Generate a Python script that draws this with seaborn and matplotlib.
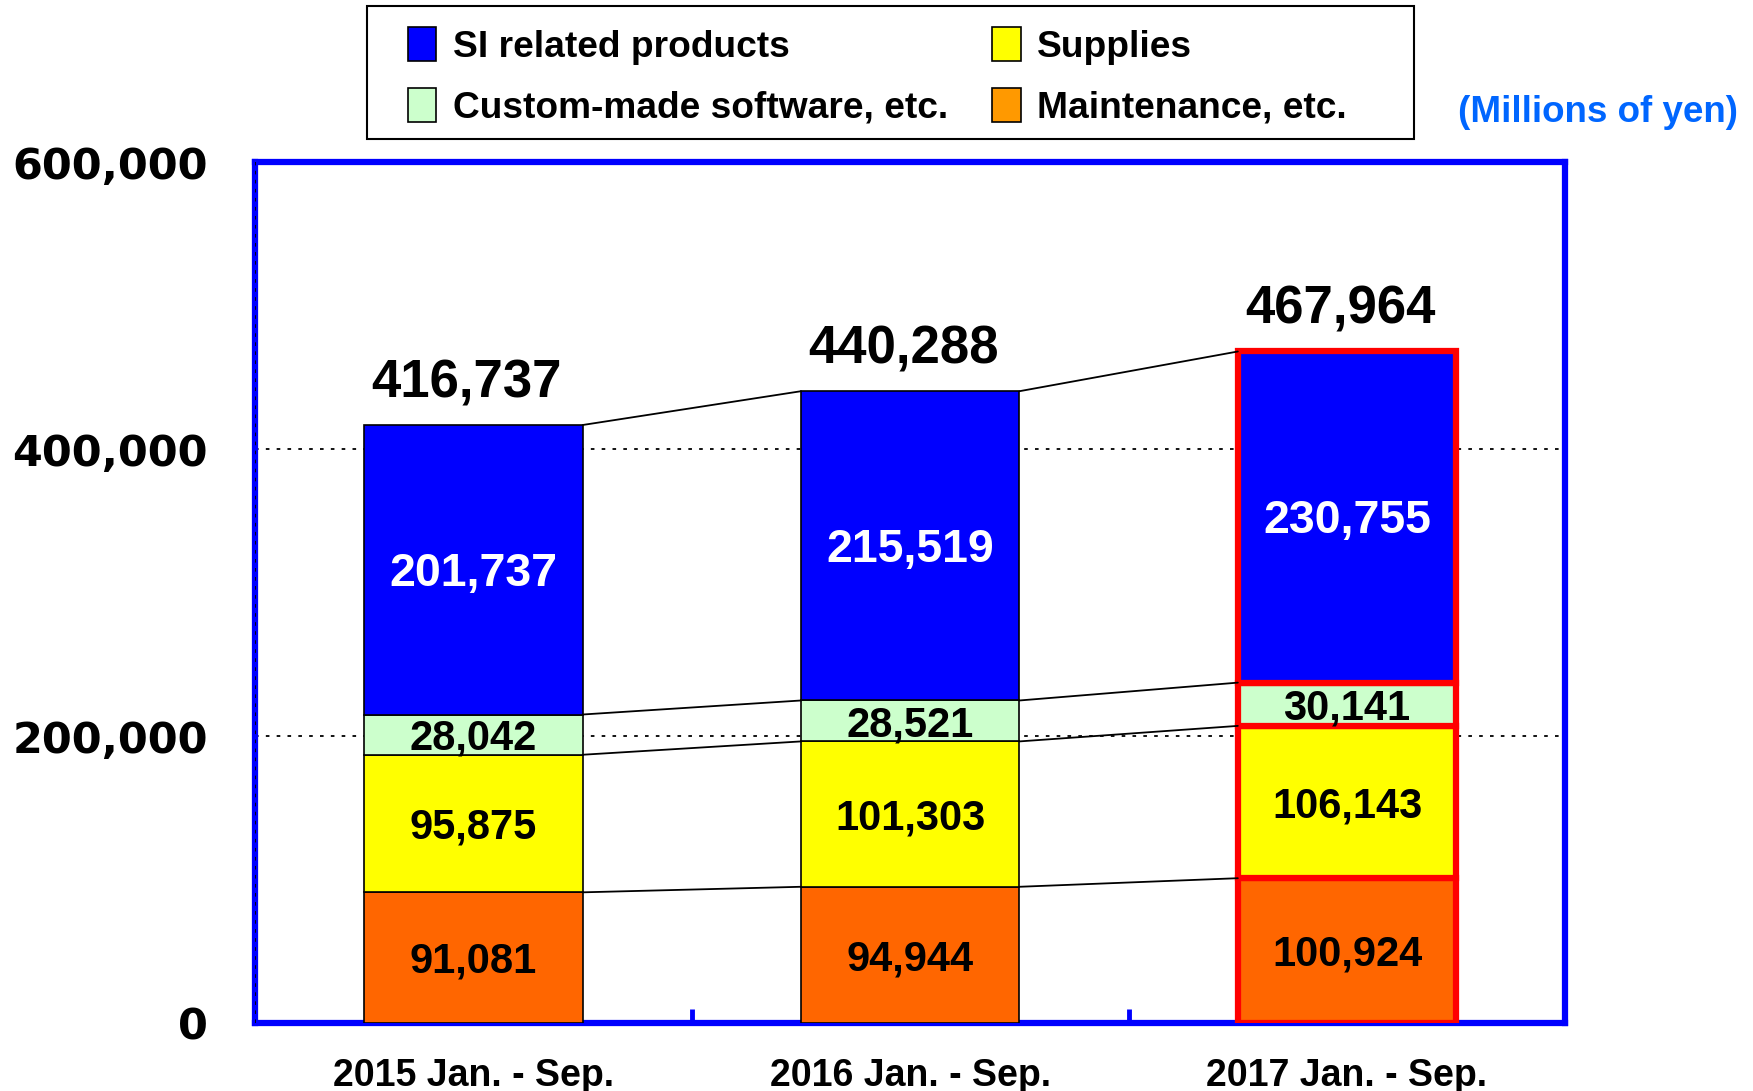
import numpy as np
import matplotlib
matplotlib.use("Agg")
import matplotlib.pyplot as plt
from matplotlib import font_manager
from matplotlib.patches import Patch, Rectangle
import seaborn as sns

# data (millions of yen)
periods = ["2015 Jan. - Sep.", "2016 Jan. - Sep.", "2017 Jan. - Sep."]
maintenance = [91081, 94944, 100924]
supplies = [95875, 101303, 106143]
custom_sw = [28042, 28521, 30141]
si_products = [201737, 215519, 230755]
totals = [416737, 440288, 467964]

bar_colors = ["#FF6600", "#FFFF00", "#CCFFCC", "#0000FF"]
legend_labels = ["SI related products", "Custom-made software, etc.", "Supplies", "Maintenance, etc."]
legend_colors = ["#0000FF", "#CCFFCC", "#FFFF00", "#FF9900"]
label_colors = ["black", "black", "black", "white"]

sns.set_theme(style="white")
plt.rcParams["font.family"] = ["Liberation Sans", "DejaVu Sans"]
plt.rcParams.update({"text.color": "black", "xtick.color": "black", "ytick.color": "black",
                     "axes.labelcolor": "black"})

names = {f.name for f in font_manager.fontManager.ttflist}
if "Liberation Sans Narrow" in names:
    narrow, narrow_scale = ["Liberation Sans Narrow", "Liberation Sans"], 1.19
else:
    narrow, narrow_scale = ["Liberation Sans"], 1.0

fig, ax = plt.subplots(figsize=(17.53, 10.91), dpi=100)
fig.subplots_adjust(left=0.1455, right=0.893, top=0.8515, bottom=0.0623)

stack = [maintenance, supplies, custom_sw, si_products]
edge_cols = ["black", "black", "red"]
edge_w = [1.2, 1.2, 4.5]
bottom = np.zeros(3)
tops = []
for vals, col, lc in zip(stack, bar_colors, label_colors):
    sns.barplot(x=periods, y=vals, color=col, saturation=1, width=0.5, bottom=bottom,
                edgecolor=edge_cols, linewidth=edge_w, ax=ax, zorder=3)
    for i, v in enumerate(vals):
        ax.annotate(f"{v:,}", (i, bottom[i] + v / 2), xytext=(0, -3), textcoords="offset points",
                    ha="center", va="center", color=lc,
                    fontsize=33.5 if lc == "white" else 30, fontweight="bold", zorder=5)
    bottom = bottom + np.array(vals)
    tops.append(bottom.copy())

# connecting lines between segments
for t in tops:
    for i in range(2):
        ax.plot([i + 0.25, i + 0.75], [t[i], t[i + 1]], color="black", lw=1.3, zorder=4)

# totals
for i, tot in enumerate(totals):
    ax.annotate(f"{tot:,}", (i - 0.015, tot), xytext=(0, 12), textcoords="offset points",
                ha="center", va="bottom", fontsize=38, fontweight="bold", color="black")

ax.set_xlim(-0.5, 2.5)
ax.set_ylim(0, 600000)
ax.set_yticks([0, 200000, 400000, 600000])
ax.set_yticklabels([f"{v:,}" for v in [0, 200000, 400000, 600000]],
                   family="DejaVu Sans", fontweight="bold", fontsize=31)
ax.tick_params(axis="y", length=0, pad=34)
ax.set_xticks(range(3))
ax.set_xticklabels(periods, family=narrow, fontweight="bold", fontsize=27 * narrow_scale)
ax.tick_params(axis="x", which="major", bottom=True, length=0, pad=25)
ax.set_xticks([0.5, 1.5], minor=True)
ax.tick_params(axis="x", which="minor", bottom=True, direction="in", length=10, width=3.5,
               color="#0000FF")
ax.set_xlabel("")
ax.set_ylabel("")

for y in [200000, 400000]:
    ax.axhline(y, color="black", ls=(0, (2, 4)), lw=1.3, zorder=1)
ax.axvline(-0.5, color="black", ls=(0, (2, 3)), lw=1.3, zorder=3)

for s in ax.spines.values():
    s.set_color("#0000FF")
    s.set_linewidth(4.5)

# legend (own frame drawn separately)
handles = [Patch(facecolor=c, edgecolor="black", lw=1.2) for c in legend_colors]
fig.legend(handles, legend_labels, ncol=2, loc="upper left",
           bbox_to_anchor=(408 / 1753, 1 - 27 / 1091), frameon=False,
           prop=dict(family=narrow, weight="bold", size=26.7),
           handlelength=0.76, handleheight=1.05, handletextpad=0.45, columnspacing=1.2,
           labelspacing=0.62, borderpad=0, borderaxespad=0)
fig.patches.append(Rectangle((367 / 1753, 1 - 139 / 1091), (1414 - 367) / 1753, 133 / 1091,
                             transform=fig.transFigure, fill=False, edgecolor="black", lw=1.5))

fig.text(0.9115, 0.897, "(Millions of yen)", ha="center", va="center", color="#0066FF",
         fontsize=26.5, fontweight="bold")

fig.savefig("out.png", dpi=100)
